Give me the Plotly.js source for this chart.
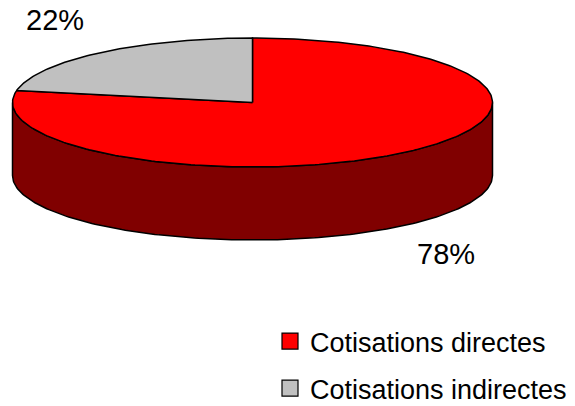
<!DOCTYPE html>
<html>
<head>
<meta charset="utf-8">
<script src="https://cdn.plot.ly/plotly-3.0.1.min.js"></script>
<style>html,body{margin:0;padding:0;background:#fff;}#chart{width:575px;height:406px;}</style>
</head>
<body>
<div id="chart"></div>
<script>
// ---- data ----
const categories = ['Cotisations directes', 'Cotisations indirectes'];
const values = [78, 22];
const topColors = ['#FF0000', '#C0C0C0'];
const sideColors = ['#800000', '#808080'];

// ---- geometry of the 3D pie (layout, in pixel-like axis units) ----
const CX = 252.5, CY = 102.5, RX = 240, RY = 64.5, DEPTH = 73;
const FONT = 'Liberation Sans, Arial, Helvetica, sans-serif';

function pt(deg, dy) {
  const r = deg * Math.PI / 180;
  return [CX + RX * Math.cos(r), CY - RY * Math.sin(r) + dy];
}
function arc(a0, a1, dy) {
  const n = Math.max(2, Math.ceil(Math.abs(a1 - a0) / 1));
  const xs = [], ys = [];
  for (let i = 0; i <= n; i++) {
    const p = pt(a0 + (a1 - a0) * i / n, dy);
    xs.push(p[0]); ys.push(p[1]);
  }
  return [xs, ys];
}

const total = values.reduce((s, v) => s + v, 0);
const sideTraces = [], topTraces = [];
let start = 90;
values.forEach((v, i) => {
  const end = start - v / total * 360;
  // top face
  const [ax, ay] = arc(start, end, 0);
  topTraces.push({
    type: 'scatter', mode: 'lines', fill: 'toself',
    x: [CX].concat(ax, [CX]), y: [CY].concat(ay, [CY]),
    fillcolor: topColors[i], line: {color: '#000', width: 1.5},
    showlegend: false, hoverinfo: 'skip'
  });
  // visible front side
  for (let k = -2; k <= 1; k++) {
    const lo = Math.max(end, 180 + 360 * k), hi = Math.min(start, 360 + 360 * k);
    if (lo < hi) {
      const [tx, ty] = arc(lo, hi, 0);
      const [bx, by] = arc(hi, lo, DEPTH);
      sideTraces.push({
        type: 'scatter', mode: 'lines', fill: 'toself',
        x: tx.concat(bx, [tx[0]]), y: ty.concat(by, [ty[0]]),
        fillcolor: sideColors[i], line: {color: '#000', width: 1.5},
        showlegend: false, hoverinfo: 'skip'
      });
    }
  }
  start = end;
});

const legendTraces = categories.map((c, i) => ({
  type: 'scatter', mode: 'markers', x: [null], y: [null], name: c,
  legendgroup: 'g' + i,
  marker: {symbol: 'square', size: 17, color: topColors[i], line: {color: '#000', width: 1.2}}
}));

const pctLabels = values.map(v => Math.round(v / total * 100) + '%');

const layout = {
  width: 575, height: 406,
  margin: {l: 0, r: 0, t: 0, b: 0, autoexpand: false},
  paper_bgcolor: '#fff', plot_bgcolor: '#fff',
  xaxis: {range: [0, 575], visible: false, fixedrange: true},
  yaxis: {range: [406, 0], visible: false, fixedrange: true},
  showlegend: true,
  legend: {
    x: 270 / 575, xanchor: 'left', y: 1 - 317 / 406, yanchor: 'top',
    bgcolor: 'rgba(0,0,0,0)', traceorder: 'grouped', tracegroupgap: 9,
    font: {family: FONT, size: 27, color: '#000'}
  },
  annotations: [
    {x: 55, y: 20, xref: 'x', yref: 'y', text: pctLabels[1], showarrow: false,
     font: {family: FONT, size: 29, color: '#000'}},
    {x: 446, y: 254, xref: 'x', yref: 'y', text: pctLabels[0], showarrow: false,
     font: {family: FONT, size: 29, color: '#000'}}
  ],
  hovermode: false
};

Plotly.newPlot('chart', sideTraces.concat(topTraces, legendTraces), layout, {displayModeBar: false, staticPlot: true});
</script>
</body>
</html>
